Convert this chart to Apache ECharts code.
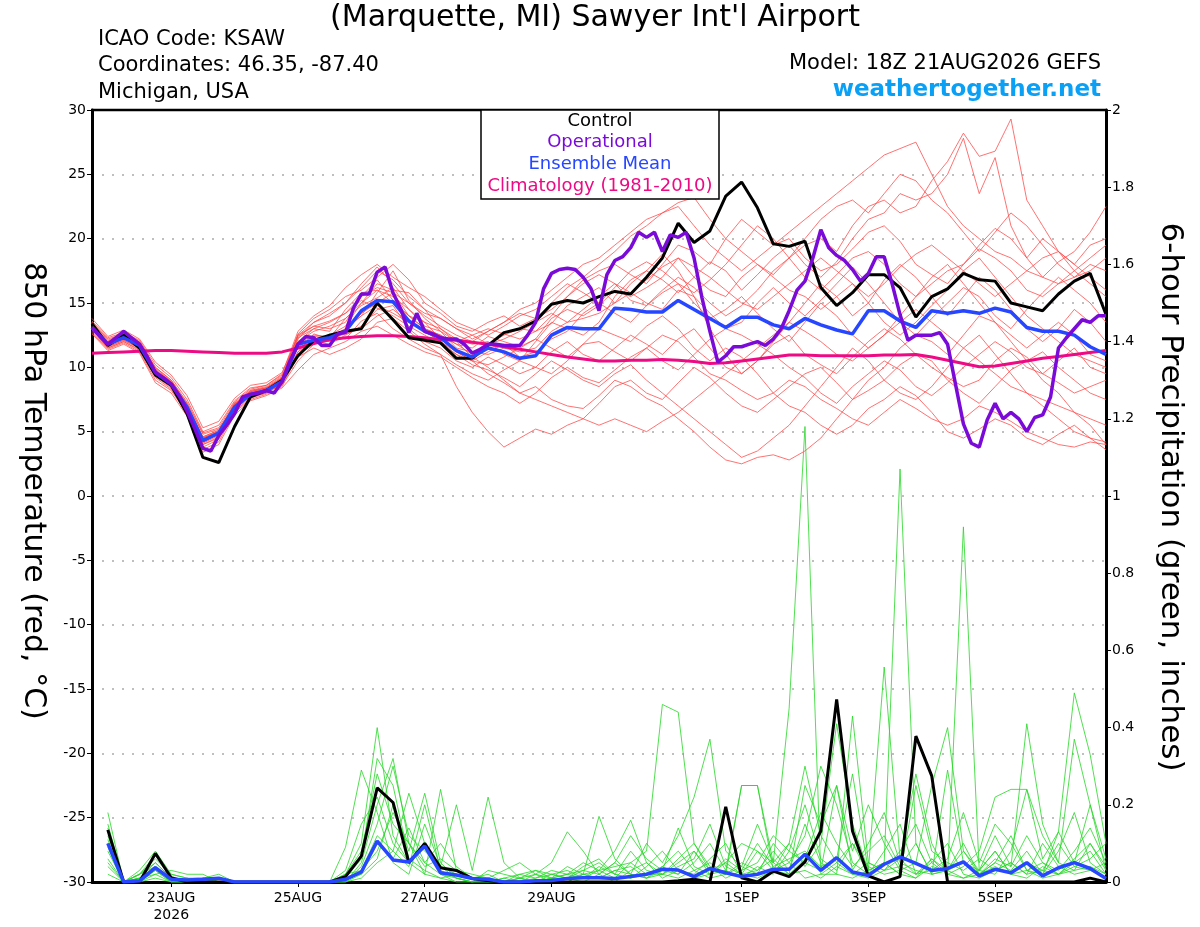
<!DOCTYPE html>
<html>
<head>
<meta charset="utf-8">
<title>KSAW GEFS 850 hPa temperature and 6-hour precipitation</title>
<script src="https://cdn.jsdelivr.net/npm/echarts@6/dist/echarts.min.js"></script>
<style>
  html, body { margin: 0; padding: 0; background: #fff; }
  #chart { width: 1200px; height: 927px; }
</style>
</head>
<body>
<div id="chart"></div>
<script>
// x axis: hours after 18Z 21AUG2026, ticks at 00Z of the labelled days
var tickHours = [30, 78, 126, 174, 246, 294, 342];
var tickLabels = ['23AUG\n2026', '25AUG', '27AUG', '29AUG', '1SEP', '3SEP', '5SEP'];

// 850 hPa temperature, 6-hourly from 18Z 21AUG (65 values)
var controlTemp = [
  13.4, 11.7, 12.5, 11.5, 9.4, 8.6, 6.4, 3.0, 2.6, 5.4,
  7.7, 8.2, 9.0, 10.9, 12.1, 12.5, 12.8, 13.0, 15.0, 13.7,
  12.3, 12.1, 11.9, 10.7, 10.7, 11.7, 12.7, 13.0, 13.6, 14.9,
  15.2, 15.0, 15.5, 15.9, 15.7, 17.0, 18.5, 21.2, 19.7, 20.6,
  23.3, 24.4, 22.4, 19.6, 19.4, 19.8, 16.2, 14.8, 15.8, 17.2,
  17.2, 16.2, 13.9, 15.5, 16.1, 17.3, 16.8, 16.7, 15.0, 14.7,
  14.4, 15.7, 16.7, 17.3, 14.1
];
var meanTemp = [
  13.1, 11.8, 12.3, 11.7, 9.6, 8.7, 6.9, 4.3, 4.9, 6.9,
  7.9, 8.2, 8.9, 11.8, 12.1, 12.3, 12.8, 14.4, 15.2, 15.1,
  13.6, 12.8, 12.3, 11.3, 10.8, 11.5, 11.2, 10.7, 10.9, 12.5,
  13.1, 13.0, 13.0, 14.6, 14.5, 14.3, 14.3, 15.2, 14.5, 13.8,
  13.1, 13.9, 13.9, 13.3, 13.0, 13.8, 13.3, 12.9, 12.6, 14.4,
  14.4, 13.6, 13.1, 14.4, 14.2, 14.4, 14.2, 14.6, 14.3, 13.1,
  12.8, 12.8, 12.5, 11.6, 11.0
];
var climoTemp = [
  11.1, 11.15, 11.2, 11.25, 11.3, 11.3, 11.25, 11.2, 11.15, 11.1,
  11.1, 11.1, 11.2, 11.5, 11.85, 12.15, 12.3, 12.4, 12.45, 12.45,
  12.4, 12.3, 12.15, 12.1, 11.95, 11.8, 11.6, 11.4, 11.2, 11.0,
  10.8, 10.65, 10.5, 10.5, 10.55, 10.55, 10.6, 10.55, 10.45, 10.3,
  10.35, 10.5, 10.65, 10.8, 10.95, 10.95, 10.9, 10.9, 10.9, 10.9,
  10.95, 10.95, 11.0, 10.8, 10.55, 10.3, 10.05, 10.1, 10.3, 10.5,
  10.7, 10.85, 11.0, 11.15, 11.3
];
// operational run, 3-hourly (129 values)
var operTemp = [
  13.1, 12.4, 11.8, 12.3, 12.8, 12.3, 11.8, 10.8, 9.6, 9.2,
  8.7, 7.8, 6.6, 5.2, 3.7, 3.5, 4.7, 5.5, 6.4, 7.7,
  7.9, 8.0, 8.2, 8.0, 8.9, 10.5, 11.8, 12.4, 12.3, 11.7,
  11.7, 12.6, 12.7, 14.6, 15.7, 15.7, 17.4, 17.8, 15.8, 14.5,
  12.7, 14.2, 12.8, 12.6, 12.3, 12.2, 12.2, 11.8, 11.1, 11.4,
  11.8, 11.8, 11.7, 11.7, 11.7, 12.5, 13.5, 16.1, 17.3, 17.6,
  17.7, 17.6, 17.0, 16.1, 14.4, 17.2, 18.3, 18.6, 19.3, 20.5,
  20.1, 20.5, 19.0, 20.3, 20.1, 20.5, 18.5, 15.4, 12.8, 10.4,
  10.9, 11.6, 11.6, 11.8, 12.0, 11.7, 12.2, 13.0, 14.4, 16.0,
  16.7, 18.5, 20.7, 19.3, 18.7, 18.3, 17.6, 16.7, 17.3, 18.6,
  18.6, 16.5, 14.1, 12.1, 12.5, 12.5, 12.5, 12.7, 11.8, 8.7,
  5.6, 4.1, 3.8, 5.9, 7.2, 6.0, 6.5, 6.0, 5.0, 6.1,
  6.3, 7.7, 11.5, 12.3, 13.0, 13.7, 13.5, 14.0, 14.0
];
// ensemble members, 6-hourly (65 values each)
var memberTemps = [
  [13.5, 12.2, 12.6, 12.0, 10.0, 9.0, 7.2, 4.8, 5.2, 7.0,
   8.2, 8.4, 9.2, 12.5, 13.2, 13.0, 13.5, 15.5, 16.8, 15.2,
   14.0, 13.0, 12.5, 11.8, 11.5, 12.4, 12.0, 11.6, 12.2, 13.8,
   14.5, 14.0, 14.8, 16.0, 15.5, 16.2, 17.0, 18.5, 17.0, 16.0,
   15.5, 17.0, 18.0, 17.2, 18.5, 19.5, 20.0, 19.0, 21.0, 22.5,
   23.0, 22.0, 22.5, 24.5, 26.0, 28.2, 26.4, 26.8, 29.3, 23.0,
   21.0, 19.0, 18.0, 19.5, 20.0],
  [12.8, 11.5, 12.0, 11.3, 9.2, 8.3, 6.5, 3.8, 4.4, 6.6,
   7.6, 8.0, 8.7, 11.2, 12.6, 12.2, 13.0, 14.0, 15.8, 17.5,
   15.2, 13.8, 12.8, 12.0, 12.5, 13.0, 12.6, 12.2, 12.8, 13.4,
   14.8, 15.5, 16.2, 15.0, 16.5, 17.5, 16.8, 15.8, 17.0, 18.2,
   17.5, 16.0, 17.2, 18.5, 19.5, 18.0, 17.0, 18.2, 20.0, 21.5,
   22.0, 23.5, 23.0, 23.5, 25.0, 27.8, 23.5, 26.3, 21.0, 18.5,
   20.0, 19.0, 17.5, 16.5, 15.5],
  [13.0, 11.6, 12.1, 11.5, 9.4, 8.5, 6.8, 4.0, 4.6, 6.8,
   7.8, 8.1, 8.6, 10.5, 11.8, 12.6, 12.2, 13.6, 14.2, 13.0,
   12.2, 11.5, 11.0, 8.5, 6.5, 5.0, 3.8, 4.5, 5.2, 4.8,
   5.5, 6.0, 7.2, 8.5, 9.0, 8.0, 7.5, 8.8, 10.0, 9.2,
   8.0, 7.0, 6.5, 7.5, 8.5, 9.5, 10.0, 8.8, 7.5, 8.2,
   9.0, 10.2, 11.0, 10.5, 9.0, 8.0, 7.2, 8.5, 9.8, 10.5,
   11.2, 10.0, 9.0, 8.0, 7.5],
  [13.3, 11.9, 12.4, 11.8, 9.8, 8.8, 7.0, 4.5, 5.0, 7.2,
   8.0, 8.3, 9.0, 12.0, 13.0, 12.8, 14.5, 15.8, 16.0, 15.5,
   14.5, 13.5, 13.0, 12.0, 10.8, 10.0, 9.0, 8.0, 8.5, 7.5,
   7.0, 6.8, 7.8, 9.0, 8.5, 7.6, 7.0, 6.0, 5.0, 3.8,
   2.8, 2.5, 3.0, 3.2, 2.8, 3.5, 4.5, 6.0, 7.5, 9.0,
   10.0, 11.5, 12.5, 12.0, 11.0, 12.5, 14.0, 13.5, 12.0, 10.5,
   9.0, 8.0, 6.5, 5.5, 4.0],
  [12.9, 11.7, 12.2, 11.6, 9.5, 8.6, 6.8, 4.2, 4.8, 6.9,
   7.9, 8.3, 9.2, 12.2, 13.5, 14.0, 15.0, 16.5, 17.8, 16.5,
   15.0, 14.2, 13.8, 13.0, 12.5, 11.8, 12.5, 13.0, 12.8, 14.0,
   15.5, 16.8, 17.5, 18.0, 17.2, 16.5, 18.0, 19.5, 19.0, 18.0,
   20.0, 21.5, 20.5, 19.5, 20.0, 18.5, 17.5, 18.0, 19.2, 20.5,
   21.0, 19.8, 18.0, 17.2, 16.5, 18.0, 19.5, 20.8, 20.0, 18.5,
   17.0, 18.2, 19.0, 20.5, 22.5],
  [13.6, 12.3, 12.7, 12.1, 10.2, 9.2, 7.5, 5.0, 5.5, 7.4,
   8.4, 8.6, 9.4, 11.5, 12.0, 11.8, 12.5, 13.2, 14.5, 14.8,
   13.0, 12.0, 11.5, 10.5, 10.0, 10.8, 10.2, 9.5, 10.0, 11.2,
   12.0, 11.0, 10.5, 11.5, 12.5, 11.8, 11.0, 12.2, 13.0, 11.5,
   10.0, 9.5, 10.5, 11.8, 12.5, 11.0, 10.2, 9.5, 10.8, 12.0,
   13.0, 12.2, 11.0, 10.0, 9.2, 8.5, 9.0, 10.5, 11.5, 10.8,
   9.5, 8.8, 8.0, 8.5, 9.0],
  [13.2, 11.8, 12.3, 11.7, 9.7, 8.7, 6.9, 4.4, 5.0, 7.1,
   8.1, 8.4, 9.1, 11.8, 12.4, 12.3, 13.8, 14.8, 15.4, 16.2,
   14.5, 13.2, 12.8, 11.5, 11.2, 11.0, 11.5, 11.2, 11.5, 12.8,
   13.5, 13.8, 14.2, 15.0, 15.8, 15.0, 14.5, 16.0, 15.5, 14.2,
   13.0, 13.5, 15.0, 16.2, 15.0, 14.0, 15.2, 16.5, 17.8, 16.5,
   15.0, 13.5, 12.5, 13.8, 15.0, 16.2, 15.5, 14.0, 13.0, 14.5,
   15.8, 17.0, 16.0, 15.0, 13.5],
  [12.7, 11.4, 11.9, 11.2, 9.0, 8.2, 6.4, 3.6, 4.2, 6.5,
   7.5, 7.9, 8.5, 11.0, 11.8, 12.5, 13.2, 15.0, 16.5, 16.0,
   15.8, 14.5, 13.0, 12.2, 11.8, 12.0, 11.0, 10.5, 12.0, 13.5,
   13.0, 12.5, 13.5, 15.5, 16.8, 17.5, 18.8, 17.5, 15.5, 13.0,
   11.0, 9.5, 10.5, 12.0, 13.5, 15.0, 16.5, 15.5, 14.0, 15.0,
   16.8, 18.0, 17.0, 15.5, 14.0, 15.5, 17.0, 16.0, 14.5, 13.0,
   12.0, 13.0, 14.5, 13.5, 12.0],
  [13.0, 11.5, 12.0, 11.4, 9.3, 8.4, 6.6, 4.0, 4.5, 6.7,
   7.7, 8.0, 8.8, 10.8, 11.5, 11.0, 11.5, 12.2, 13.5, 13.8,
   12.8, 11.8, 11.0, 10.2, 9.5, 9.0, 9.8, 10.5, 10.0, 9.5,
   10.5, 11.8, 12.0, 11.2, 10.5, 11.5, 12.5, 12.0, 10.8, 9.5,
   9.0, 8.2, 7.5, 8.0, 9.0, 8.5, 7.5, 6.8, 6.0, 5.5,
   6.5, 7.5, 6.8, 6.0, 5.5, 6.0, 7.0, 6.5, 5.8, 5.0,
   4.5, 4.0, 3.8, 4.2, 4.0],
  [13.4, 12.0, 12.5, 11.9, 9.9, 8.9, 7.1, 4.6, 5.1, 7.2,
   8.2, 8.5, 9.3, 12.6, 13.8, 14.5, 15.5, 16.0, 17.0, 18.0,
   16.8, 15.0, 14.2, 13.2, 12.8, 13.5, 14.0, 13.2, 13.8, 15.0,
   16.2, 17.0, 18.0, 19.0, 20.2, 21.0, 22.0, 22.8, 23.2, 21.5,
   20.0, 19.0, 18.0, 17.0, 16.0, 15.5, 14.5, 15.5, 16.5, 15.0,
   13.5, 12.5, 13.5, 14.8, 16.0, 17.5, 18.5, 17.0, 15.5, 14.0,
   13.0, 12.0, 11.0, 10.5, 10.0],
  [12.6, 11.3, 11.8, 11.1, 8.8, 8.0, 6.2, 3.4, 4.0, 6.3,
   7.4, 7.8, 8.4, 9.8, 11.0, 11.5, 12.0, 12.8, 13.2, 12.5,
   11.8, 11.2, 10.8, 10.0, 9.2, 8.5, 8.0, 7.2, 8.0, 9.2,
   10.0, 9.2, 8.8, 9.8, 10.8, 11.5, 10.5, 9.8, 11.0, 12.2,
   13.0, 12.5, 11.8, 11.0, 10.0, 9.2, 8.0, 7.2, 8.5, 9.5,
   10.5, 9.8, 8.5, 7.8, 8.8, 10.0, 11.0, 12.0, 11.2, 10.0,
   9.5, 10.5, 11.5, 10.0, 9.5],
  [13.1, 11.7, 12.2, 11.6, 9.6, 8.6, 6.8, 4.3, 4.9, 7.0,
   8.0, 8.2, 9.0, 11.6, 12.2, 12.0, 12.8, 14.2, 15.0, 15.8,
   14.0, 13.0, 12.5, 11.8, 11.0, 11.8, 12.2, 12.8, 13.5, 14.2,
   13.5, 14.5, 15.5, 16.5, 15.2, 14.8, 16.0, 17.0, 16.2, 15.0,
   14.0, 14.8, 16.0, 17.5, 18.5, 20.0, 21.5, 22.5, 23.0, 22.0,
   23.5, 25.0, 24.5, 23.0, 22.0, 20.5, 19.0, 20.5, 22.0, 21.0,
   19.5, 18.0, 17.0, 17.5, 18.5],
  [13.8, 12.4, 12.9, 12.2, 10.4, 9.4, 7.8, 5.3, 5.8, 7.6,
   8.6, 8.8, 9.6, 12.4, 13.2, 13.6, 14.2, 15.2, 14.6, 14.0,
   13.2, 12.5, 11.8, 11.0, 10.5, 10.2, 10.8, 11.5, 12.2, 11.5,
   10.8, 11.8, 13.0, 12.5, 12.0, 13.2, 14.0, 13.0, 11.5, 10.5,
   11.5, 10.8, 9.5, 8.0, 7.0, 6.5, 5.5, 4.8, 5.5, 6.8,
   7.5, 8.5, 7.8, 6.5, 5.0, 4.5, 5.2, 6.0, 5.5, 4.5,
   4.0, 4.8, 5.5, 4.5, 3.6],
  [12.9, 11.6, 12.1, 11.5, 9.4, 8.5, 6.7, 4.1, 4.7, 6.8,
   7.8, 8.1, 8.8, 12.0, 12.8, 13.2, 13.8, 15.0, 16.0, 15.0,
   14.0, 13.5, 12.2, 11.2, 10.5, 11.2, 11.8, 10.8, 11.2, 12.2,
   12.8, 14.2, 15.0, 14.2, 13.5, 14.8, 15.8, 16.5, 15.0, 13.8,
   14.5, 15.5, 14.2, 13.0, 12.0, 13.5, 15.0, 14.0, 12.5, 11.5,
   12.5, 14.0, 15.5, 17.0, 18.0, 16.5, 15.0, 13.5, 12.5, 11.5,
   12.5, 13.5, 12.5, 11.0, 10.5],
  [13.5, 12.1, 12.6, 11.9, 10.0, 9.0, 7.3, 4.9, 5.3, 7.3,
   8.3, 8.6, 9.5, 12.8, 14.0, 14.8, 16.2, 17.2, 18.0, 17.0,
   16.2, 15.5, 14.5, 13.5, 13.0, 12.5, 13.2, 14.0, 14.5, 15.5,
   16.5, 15.8, 15.0, 16.2, 17.5, 18.2, 17.5, 16.5, 15.8, 16.8,
   18.0, 19.5, 21.0, 20.0, 18.5, 17.0, 16.0, 17.2, 18.5, 19.0,
   18.0, 16.5, 15.5, 16.5, 17.5, 18.0, 19.2, 18.5, 17.5, 16.0,
   15.5, 16.5, 17.5, 18.5, 19.5],
  [13.2, 11.9, 12.3, 11.7, 9.6, 8.7, 6.9, 4.5, 5.0, 7.0,
   8.0, 8.3, 9.0, 11.2, 12.0, 12.2, 12.6, 13.0, 14.0, 14.5,
   13.5, 12.8, 12.0, 11.0, 10.2, 9.8, 9.2, 8.5, 9.5, 10.5,
   9.8, 9.0, 8.5, 9.5, 10.2, 9.0, 8.0, 7.0, 6.0, 5.0,
   4.0, 3.0, 3.5, 4.5, 5.5, 7.0, 8.5, 10.0, 11.5, 10.5,
   9.0, 8.0, 7.5, 8.5, 10.0, 11.5, 12.5, 11.0, 9.5, 8.0,
   7.0, 6.0, 5.0, 4.5, 4.2],
  [13.0, 11.8, 12.4, 11.6, 9.5, 8.6, 6.7, 4.2, 4.8, 6.9,
   8.0, 8.3, 9.0, 12.3, 13.0, 13.5, 14.2, 15.5, 16.2, 15.8,
   15.0, 14.0, 13.2, 12.5, 12.0, 12.8, 13.5, 14.5, 15.0, 16.0,
   17.0, 18.0, 18.5, 19.5, 20.5, 21.5, 22.0, 22.5, 21.0, 19.5,
   18.5, 17.5, 18.5, 19.5, 20.5, 21.5, 22.5, 23.5, 24.5, 25.5,
   26.5, 27.0, 27.5, 25.0, 22.5, 21.0, 20.0, 19.0, 18.5, 17.5,
   17.0, 16.5, 17.0, 18.0, 17.5],
  [13.3, 11.9, 12.4, 11.8, 9.7, 8.8, 7.0, 4.6, 5.1, 7.1,
   8.1, 8.4, 9.1, 11.9, 12.5, 12.4, 13.0, 14.0, 14.8, 14.2,
   13.5, 12.8, 12.0, 11.2, 10.5, 9.5, 8.8, 8.0, 7.5, 7.0,
   6.5, 6.0, 5.5, 6.0, 5.5, 5.0, 5.8, 6.5, 7.5, 8.5,
   9.5, 10.5, 11.5, 12.5, 13.5, 12.8, 12.0, 11.0, 10.5, 11.5,
   12.5, 13.5, 14.5, 13.5, 12.5, 11.5, 10.5, 9.5, 8.5, 8.0,
   7.5, 7.0, 6.5, 6.0, 5.5],
  [13.4, 12.0, 12.6, 11.9, 9.8, 8.9, 7.0, 4.5, 5.0, 7.1,
   8.1, 8.4, 9.2, 12.5, 13.5, 14.2, 15.0, 16.2, 17.5, 16.8,
   15.5, 14.5, 13.8, 13.0, 12.2, 12.8, 13.5, 14.2, 13.8, 14.5,
   15.5, 16.5, 17.2, 16.5, 15.8, 16.8, 17.8, 18.5, 17.8, 17.0,
   16.0, 15.0, 14.5, 15.5, 16.5, 17.5, 18.5, 17.5, 16.5, 15.5,
   16.5, 17.8, 18.8, 19.5, 18.5, 17.5, 16.5, 15.5, 16.5, 17.5,
   18.5, 19.0, 18.0, 17.0, 16.0]
];

// 6-hour precipitation (inches), ending 00Z 22AUG onwards (64 values)
var controlPrecip = [
  0.135, 0, 0, 0.074, 0.011, 0, 0, 0, 0, 0,
  0, 0, 0, 0, 0, 0.014, 0.067, 0.244, 0.206, 0.05,
  0.10, 0.037, 0.03, 0.009, 0.003, 0, 0, 0, 0, 0,
  0, 0, 0, 0, 0, 0, 0.003, 0.007, 0, 0.195,
  0.011, 0, 0.028, 0.014, 0.052, 0.132, 0.473, 0.132, 0.016, 0,
  0.014, 0.378, 0.275, 0, 0, 0, 0, 0, 0, 0,
  0, 0, 0.01, 0
];
var meanPrecip = [
  0.10, 0, 0.003, 0.037, 0.007, 0.005, 0.007, 0.01, 0, 0,
  0, 0, 0, 0, 0, 0.007, 0.026, 0.106, 0.057, 0.052,
  0.093, 0.024, 0.018, 0.009, 0.007, 0, 0, 0.003, 0.004, 0.009,
  0.011, 0.011, 0.009, 0.014, 0.02, 0.033, 0.031, 0.014, 0.035, 0.024,
  0.014, 0.02, 0.033, 0.033, 0.072, 0.03, 0.063, 0.026, 0.017, 0.046,
  0.065, 0.048, 0.03, 0.035, 0.052, 0.016, 0.033, 0.024, 0.05, 0.016,
  0.037, 0.05, 0.035, 0.009
];
var memberPrecips = [
  [0.18, 0, 0.01, 0.05, 0.01, 0, 0, 0,
   0, 0, 0, 0, 0, 0, 0,
   0.02, 0.10, 0.40, 0.12, 0.05, 0.02, 0.01, 0, 0, 0.01,
   0, 0, 0, 0.01, 0.02, 0.03, 0.05, 0.02, 0.01, 0.04,
   0.08, 0.03, 0.01, 0.02, 0.05, 0.10, 0.08, 0.05, 0.45, 1.18,
   0.02, 0.02, 0.01, 0.03, 0.05, 0.02, 0.01, 0.06, 0.02, 0.01,
   0.03, 0.08, 0.02, 0.01, 0.04, 0.02, 0.06, 0.10, 0.03],
  [0.10, 0, 0.03, 0.08, 0.02, 0.01, 0, 0,
   0, 0, 0, 0, 0, 0, 0,
   0, 0.05, 0.20, 0.32, 0.10, 0.05, 0.02, 0.01, 0, 0,
   0.01, 0, 0.02, 0.05, 0.13, 0.08, 0.02, 0, 0.03, 0.05,
   0.02, 0.06, 0.10, 0.04, 0.01, 0.03, 0.05, 0.12, 0.08, 0.20,
   0.06, 0.03, 0.10, 0.02, 0.05, 1.07, 0.10, 0.02, 0.03, 0.08,
   0.02, 0.05, 0.12, 0.03, 0.01, 0.02, 0.05, 0.08, 0.02],
  [0.06, 0, 0, 0.03, 0, 0, 0.01, 0,
   0, 0, 0, 0, 0, 0, 0,
   0.01, 0.03, 0.12, 0.08, 0.23, 0.10, 0.04, 0.02, 0.01, 0.02,
   0, 0.01, 0.03, 0.01, 0, 0.02, 0.17, 0.06, 0.02, 0.01,
   0.04, 0.02, 0.08, 0.03, 0.02, 0.25, 0.25, 0.05, 0.10, 0.04,
   0.10, 0.41, 0.15, 0.03, 0.557, 0.06, 0.02, 0.05, 0.10, 0.02,
   0.01, 0.03, 0.05, 0.02, 0.10, 0.04, 0.02, 0.03, 0.05],
  [0.12, 0, 0.02, 0.04, 0, 0, 0, 0.01,
   0, 0, 0, 0, 0, 0, 0,
   0, 0.02, 0.06, 0.20, 0.08, 0.23, 0.05, 0.01, 0, 0.03,
   0.02, 0.01, 0, 0.02, 0.03, 0.01, 0.03, 0.08, 0.16, 0.05,
   0.01, 0.03, 0.02, 0.06, 0.10, 0.02, 0.03, 0.08, 0.03, 0.15,
   0.05, 0.02, 0.43, 0.05, 0.03, 0.08, 0.15, 0.05, 0.02, 0.92,
   0.03, 0.02, 0.08, 0.24, 0.12, 0.05, 0.03, 0.10, 0.04],
  [0.15, 0, 0.02, 0.07, 0.01, 0, 0, 0,
   0, 0, 0, 0, 0, 0, 0,
   0.02, 0.08, 0.28, 0.15, 0.10, 0.02, 0.24, 0.03, 0.01, 0,
   0, 0.02, 0.01, 0.03, 0.02, 0.05, 0.03, 0.01, 0.05, 0.08,
   0.46, 0.44, 0.10, 0.03, 0.05, 0.02, 0.01, 0.03, 0.10, 0.30,
   0.12, 0.05, 0.02, 0.01, 0.03, 0.06, 0.28, 0.10, 0.02, 0.04,
   0.08, 0.22, 0.24, 0.24, 0.06, 0.13, 0.49, 0.33, 0.10],
  [0.08, 0, 0.01, 0.03, 0, 0, 0, 0,
   0, 0, 0, 0, 0, 0, 0,
   0, 0.04, 0.15, 0.30, 0.12, 0.08, 0.04, 0.20, 0.03, 0.22,
   0.05, 0.01, 0, 0.01, 0.04, 0.02, 0.01, 0.03, 0.02, 0.10,
   0.05, 0.12, 0.22, 0.37, 0.08, 0.04, 0.15, 0.05, 0.02, 0.25,
   0.15, 0.25, 0.08, 0.20, 0.10, 0.03, 0.05, 0.25, 0.40, 0.08,
   0.03, 0.12, 0.04, 0.41, 0.15, 0.05, 0.37, 0.20, 0.06],
  [0.04, 0, 0, 0.02, 0.03, 0.02, 0.02, 0,
   0, 0, 0, 0, 0, 0, 0,
   0.03, 0.15, 0.22, 0.10, 0.05, 0.10, 0.02, 0, 0, 0.01,
   0.03, 0.05, 0.02, 0, 0.01, 0.04, 0.06, 0.02, 0.08, 0.03,
   0.02, 0.05, 0.08, 0.02, 0.03, 0.25, 0.25, 0.03, 0.05, 0.12,
   0.30, 0.20, 0.05, 0.02, 0.08, 0.15, 0.02, 0.03, 0.06, 0.18,
   0.05, 0.15, 0.10, 0.03, 0.02, 0.08, 0.18, 0.05, 0.02],
  [0.14, 0, 0.02, 0.06, 0.02, 0.01, 0.01, 0.02,
   0, 0, 0, 0, 0, 0, 0,
   0.01, 0.06, 0.32, 0.25, 0.06, 0.03, 0.01, 0.02, 0.01, 0,
   0, 0, 0.01, 0.02, 0.01, 0.03, 0.02, 0.05, 0.02, 0.01,
   0.03, 0.02, 0.05, 0.10, 0.03, 0.01, 0.04, 0.02, 0.08, 0.05,
   0.03, 0.25, 0.03, 0.10, 0.18, 0.05, 0.03, 0.02, 0.29, 0.05,
   0.02, 0.05, 0.03, 0.08, 0.02, 0.13, 0.05, 0.20, 0.03],
  [0.02, 0, 0.01, 0.02, 0, 0, 0, 0,
   0, 0, 0, 0, 0, 0, 0,
   0, 0.01, 0.05, 0.08, 0.04, 0.20, 0.03, 0.01, 0, 0,
   0, 0, 0, 0, 0.01, 0.02, 0.03, 0.04, 0.05, 0.02,
   0.04, 0.08, 0.03, 0.05, 0.02, 0.05, 0.03, 0.06, 0.02, 0.03,
   0.01, 0.04, 0.02, 0.05, 0.03, 0.04, 0.02, 0.06, 0.03, 0.01,
   0.02, 0.04, 0.02, 0.03, 0.05, 0.02, 0.03, 0.04, 0.02],
  [0.09, 0, 0.01, 0.04, 0.01, 0, 0, 0,
   0, 0, 0, 0, 0, 0, 0,
   0.01, 0.02, 0.10, 0.06, 0.14, 0.05, 0.10, 0.04, 0.01, 0,
   0.01, 0.02, 0.03, 0.02, 0.01, 0, 0.02, 0.05, 0.12, 0.06,
   0.03, 0.14, 0.04, 0.02, 0.06, 0.03, 0.10, 0.04, 0.06, 0.08,
   0.04, 0.06, 0.28, 0.03, 0.05, 0.02, 0.25, 0.08, 0.05, 0.03,
   0.06, 0.03, 0.05, 0.02, 0.03, 0.10, 0.04, 0.06, 0.10],
  [0.05, 0, 0, 0.01, 0, 0.01, 0, 0.01,
   0, 0, 0, 0, 0, 0, 0,
   0.02, 0.03, 0.08, 0.18, 0.10, 0.04, 0.06, 0.03, 0.02, 0.01,
   0, 0.01, 0, 0.01, 0.02, 0.01, 0.04, 0.02, 0.01, 0.02,
   0.02, 0.01, 0.03, 0.01, 0.02, 0.04, 0.02, 0.10, 0.05, 0.01,
   0.02, 0.05, 0.10, 0.04, 0.02, 0.03, 0.01, 0.04, 0.03, 0.05,
   0.03, 0.08, 0.02, 0.05, 0.03, 0.02, 0.04, 0.03, 0.01],
  [0.11, 0, 0.02, 0.05, 0.01, 0, 0.01, 0,
   0, 0, 0, 0, 0, 0, 0,
   0.09, 0.29, 0.18, 0.05, 0.02, 0.15, 0.04, 0.01, 0, 0,
   0, 0.01, 0.02, 0.01, 0, 0.02, 0.01, 0.03, 0.04, 0.01,
   0.02, 0.04, 0.06, 0.15, 0.04, 0.02, 0.08, 0.03, 0.02, 0.06,
   0.18, 0.10, 0.04, 0.08, 0.12, 0.04, 0.10, 0.02, 0.03, 0.10,
   0.02, 0.06, 0.04, 0.12, 0.05, 0.03, 0.08, 0.14, 0.05]
];

var FONT = '"DejaVu Sans", Verdana, sans-serif';

function pairs(vals, stepHours, startHour) {
  return vals.map(function (v, k) { return [startHour + k * stepHours, v]; });
}

function line(data, yIdx, color, width) {
  return {
    type: 'line',
    data: data,
    yAxisIndex: yIdx,
    symbol: 'none',
    silent: true,
    lineStyle: { color: color, width: width }
  };
}

var series = [];
memberTemps.forEach(function (m) {
  series.push(line(pairs(m, 6, 0), 0, 'rgba(255,70,70,0.85)', 0.9));
});
memberPrecips.forEach(function (m) {
  series.push(line(pairs(m, 6, 6), 1, 'rgba(40,215,40,0.9)', 0.9));
});
series.push(line(pairs(climoTemp, 6, 0), 0, '#ec0b84', 3));
series.push(line(pairs(controlTemp, 6, 0), 0, '#000000', 3));
series.push(line(pairs(controlPrecip, 6, 6), 1, '#000000', 3));
series.push(line(pairs(meanTemp, 6, 0), 0, '#2646ff', 3.5));
series.push(line(pairs(meanPrecip, 6, 6), 1, '#2646ff', 3.5));
series.push(line(pairs(operTemp, 3, 0), 0, '#7a0ad8', 3.5));

function txt(x, y, text, size, opts) {
  opts = opts || {};
  return {
    type: 'text',
    x: x,
    y: y,
    rotation: opts.rotation || 0,
    z: 100,
    silent: true,
    style: {
      text: text,
      fill: opts.color || '#000',
      font: (opts.bold ? 'bold ' : '') + size + 'px ' + FONT,
      textAlign: opts.align || 'left',
      textVerticalAlign: 'middle',
      align: opts.align || 'left',
      verticalAlign: 'middle'
    }
  };
}

var myChart = echarts.init(document.getElementById('chart'), null, { renderer: 'canvas' });
var option = {
  animation: false,
  backgroundColor: '#ffffff',
  textStyle: { fontFamily: FONT },
  grid: { left: 92, right: 94, top: 110, bottom: 45 },
  xAxis: {
    type: 'value',
    min: 0,
    max: 384,
    axisLine: { onZero: false, lineStyle: { color: '#000', width: 3 } },
    axisTick: { show: true, customValues: tickHours, length: 5, lineStyle: { color: '#000', width: 1 } },
    axisLabel: {
      customValues: tickHours,
      fontSize: 14,
      color: '#000',
      margin: 8,
      lineHeight: 17,
      formatter: function (v) {
        var k = tickHours.indexOf(v);
        return k < 0 ? '' : tickLabels[k];
      }
    },
    splitLine: { show: false }
  },
  yAxis: [
    {
      type: 'value',
      min: -30,
      max: 30,
      interval: 5,
      position: 'left',
      axisLine: { show: true, onZero: false, lineStyle: { color: '#000', width: 3 } },
      axisTick: { show: true, length: 5, lineStyle: { color: '#000', width: 1 } },
      axisLabel: { fontSize: 14, color: '#000', margin: 6 },
      splitLine: { show: true, lineStyle: { color: '#aaaaaa', width: 1.5, type: [2, 8] } }
    },
    {
      type: 'value',
      min: 0,
      max: 2,
      interval: 0.2,
      position: 'right',
      axisLine: { show: true, onZero: false, lineStyle: { color: '#000', width: 3 } },
      axisTick: { show: true, length: 5, lineStyle: { color: '#000', width: 1 } },
      axisLabel: {
        fontSize: 14, color: '#000', margin: 6,
        formatter: function (v) { return String(+v.toFixed(1)); }
      },
      splitLine: { show: false }
    }
  ],
  graphic: [
    {
      type: 'line',
      z: 98,
      silent: true,
      shape: { x1: 91, y1: 110, x2: 1107, y2: 110 },
      style: { stroke: '#000', lineWidth: 2.5 }
    },
    txt(595, 18, "(Marquette, MI) Sawyer Int'l Airport", 30, { align: 'center' }),
    txt(98, 40, 'ICAO Code: KSAW', 21),
    txt(98, 66, 'Coordinates: 46.35, -87.40', 21),
    txt(98, 93, 'Michigan, USA', 21),
    txt(1101, 64, 'Model: 18Z 21AUG2026 GEFS', 21, { align: 'right' }),
    txt(1101, 90, 'weathertogether.net', 23, { align: 'right', bold: true, color: '#0aa0f5' }),
    {
      type: 'rect',
      z: 99,
      silent: true,
      shape: { x: 481, y: 110, width: 238, height: 89 },
      style: { fill: '#fff', stroke: '#000', lineWidth: 1.5 }
    },
    txt(600, 121, 'Control', 18, { align: 'center' }),
    txt(600, 142, 'Operational', 18, { align: 'center', color: '#7a0ad8' }),
    txt(600, 164, 'Ensemble Mean', 18, { align: 'center', color: '#2646ff' }),
    txt(600, 186, 'Climatology (1981-2010)', 18, { align: 'center', color: '#ec0b84' }),
    txt(33, 491, '850 hPa Temperature (red, \u00B0C)', 30, { align: 'center', rotation: -Math.PI / 2 }),
    txt(1170, 497, '6-hour Precipitation (green, inches)', 31, { align: 'center', rotation: -Math.PI / 2 })
  ],
  series: series
};

myChart.setOption(option);
window.addEventListener('resize', function () {
  myChart.resize();
});
</script>
</body>
</html>
